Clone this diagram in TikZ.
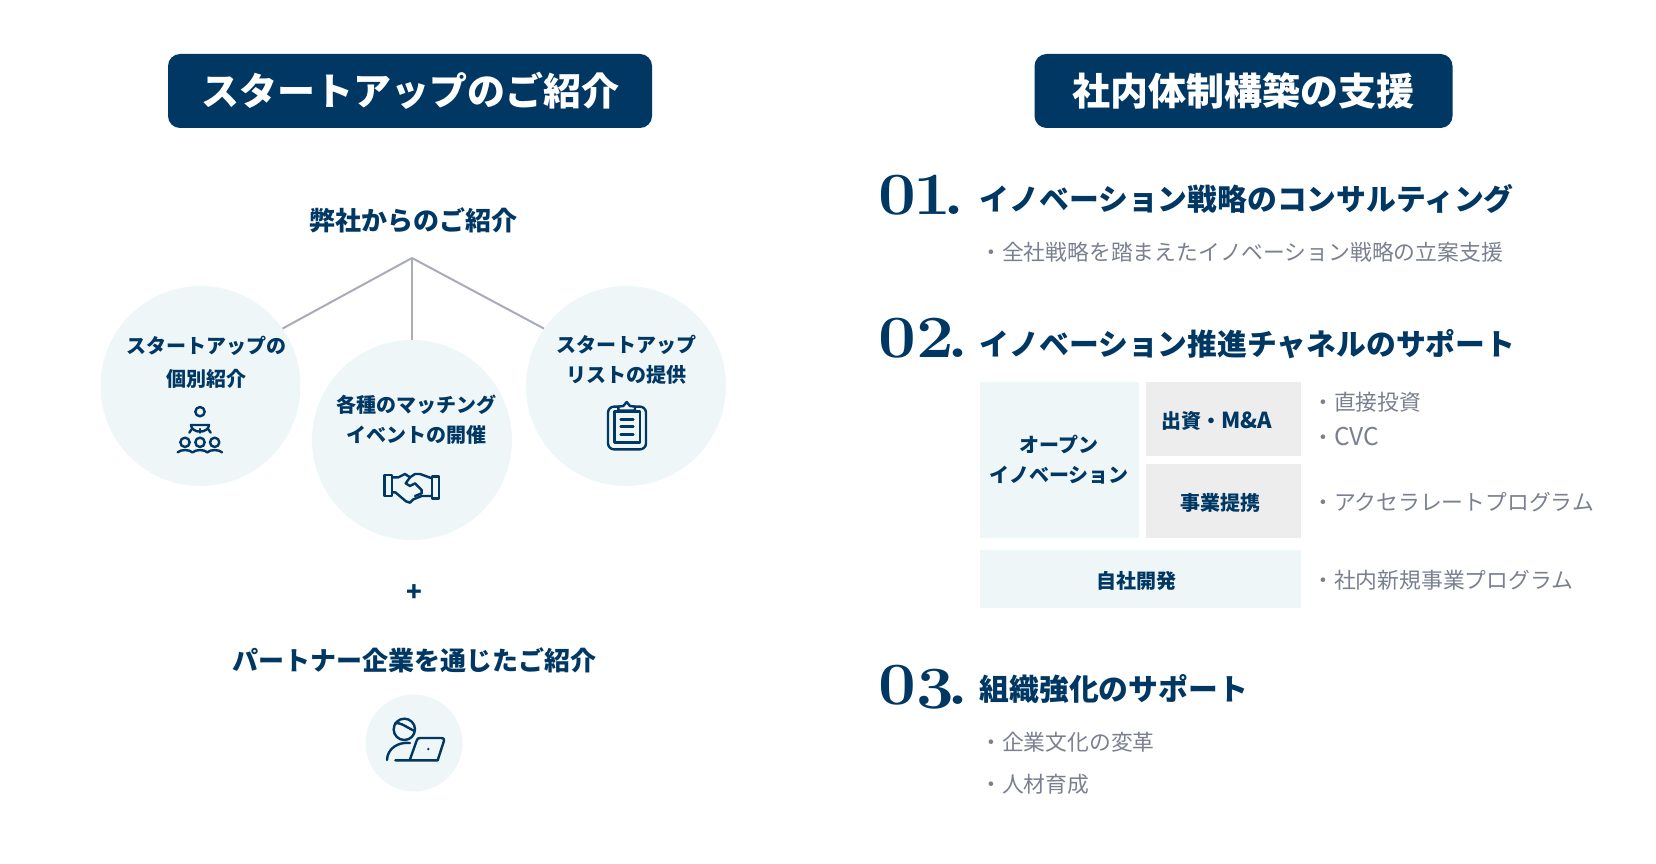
\documentclass[tikz,border=0pt]{standalone}
\usepackage{fontspec}
\setmainfont{Noto Sans CJK JP}
\newfontfamily\numfont[FakeStretch=1.12]{Latin Modern Roman}
\usetikzlibrary{positioning}

\definecolor{navy}{HTML}{003763}
\definecolor{paleblue}{HTML}{EEF6F8}
\definecolor{palegray}{HTML}{EDEDED}
\definecolor{linegray}{HTML}{A9ABB8}
\definecolor{textgray}{HTML}{7A8090}

\newcommand{\fs}[1]{\fontsize{#1}{#1}\selectfont}

\tikzset{
    headbox/.style={fill=navy, text=white, rounded corners=12, inner sep=0, font=\fs{38}\bfseries},
    circbg/.style={circle, fill=paleblue, inner sep=0, minimum size=#1},
    lead/.style={text=navy, inner sep=0, font=\fs{26}\bfseries},
    intext/.style={text=navy, inner sep=0, align=center, font=\fontsize{20}{#1}\selectfont\bfseries},
    numlabel/.style={text=navy, inner sep=0, anchor=base west, font=\fs{60}\numfont\bfseries},
    headline/.style={text=navy, inner sep=0, anchor=west, font=\fs{29.8}\bfseries},
    item/.style={text=textgray, inner sep=0, anchor=west, font=\fs{21.8}},
    blockA/.style={fill=paleblue, inner sep=0, anchor=north west},
    blockB/.style={fill=palegray, inner sep=0, anchor=north west},
    icon/.style={draw=navy, line width=2.4pt, line cap=round, line join=round},
    treeline/.style={linegray, line width=2pt},
}

\begin{document}
\begin{tikzpicture}[x=1pt, y=-1pt]

    \useasboundingbox (0,0) rectangle (1656,864);

    % left column
    \node[headbox, minimum width=484, minimum height=74] (headL) at (410,91) {\raisebox{1pt}{スタートアップのご紹介}};
    \node[lead] (leadA) at (413.5,220) {弊社からのご紹介};

    \node[circbg=200] (circA) at (200.5,386) {};
    \node[circbg=200] (circB) at (412,440) {};
    \node[circbg=200] (circC) at (626,386) {};

    \coordinate (apex) at (412,258);
    \draw[treeline] (apex) -- (circA.35);
    \draw[treeline] (apex) -- (circB.north);
    \draw[treeline] (apex) -- (circC.145);

    \node[intext=33] (txtA) at (206,362) {スタートアップの\\個別紹介};
    \node[intext=30] (txtB) at (416,420) {各種のマッチング\\イベントの開催};
    \node[intext=30] (txtC) at (626.5,360) {スタートアップ\\リストの提供};

    % people icon
    \begin{scope}[shift={(160,390)}, scale=1/3]
        \draw[icon] (120,65) circle (14);
        \draw[icon] (93,105) arc (180:0:27 and 20) -- cycle;
        \draw[icon] (94,119) -- (88,128);
        \draw[icon] (120,117) -- (120,128);
        \draw[icon] (146,119) -- (152,128);
        \foreach \cx in {75,120,164} {
            \draw[icon] (\cx,157) circle (14);
            \draw[icon] (\cx-22,187) .. controls (\cx-14,178) and (\cx+14,178) .. (\cx+22,187);
        }
    \end{scope}

    % handshake icon
    \begin{scope}[shift={(370,460)}, scale=1/3]
        \draw[icon] (44,45) rectangle (66,108);
        \draw[icon] (186,50) rectangle (207,115);
        \draw[icon] (66,52) -- (85,52) -- (105,42) -- (120,52) -- (135,42) -- (150,42) -- (186,55);
        \draw[icon] (66,97) -- (76,97) -- (108,124) -- (120,128) -- (130,118) -- (155,108) -- (186,108);
        \draw[icon] (120,52) -- (107,70) -- (120,78) -- (135,70) -- (155,90) -- (155,100) -- (135,108);
    \end{scope}

    % clipboard icon
    \begin{scope}[shift={(590,390)}, scale=1/3]
        \draw[icon, rounded corners=6] (54,50) rectangle (168,178);
        \draw[icon] (73,65) rectangle (150,158);
        \draw[icon, fill=paleblue] (85,62) -- (85,50) -- (100,48) -- (110,36) -- (120,48) -- (135,50) -- (135,62) -- cycle;
        \foreach \ly in {88,110,133} \draw[icon] (92,\ly) -- (130,\ly);
    \end{scope}

    \node[lead] (plus) at (414.5,593) {+};
    \node[lead] (leadB) at (414.5,660.5) {パートナー企業を通じたご紹介};
    \node[circbg=97] (circD) at (414,743) {};

    % laptop icon
    \begin{scope}[shift={(340,680)}, scale=1/3]
        \draw[icon] (193,148) circle (32);
        \draw[icon] (165,130) .. controls (180,125) and (205,145) .. (222,152);
        \draw[icon] (141,240) .. controls (142,205) and (175,185) .. (210,189);
        \draw[icon] (166,241) -- (293,241) -- (312,182) .. controls (313,176) and (310,174) .. (304,174) -- (240,174) .. controls (234,174) and (232,176) .. (230,182) -- (209,241);
        \fill[navy] (265,207) circle (4);
    \end{scope}

    % right column
    \node[headbox, minimum width=418, minimum height=74] (headR) at (1243.5,91) {\raisebox{1pt}{社内体制構築の支援}};

    \node[numlabel] (numA) at (878,214) {0\kern-3pt1\kern-7pt.};
    \node[headline] (headA) at (979.5,199) {イノベーション戦略のコンサルティング};
    \node[item] (itemA) at (980,252) {・全社戦略を踏まえたイノベーション戦略の立案支援};

    \node[numlabel] (numB) at (878,357.5) {02\kern-6pt.};
    \node[headline] (headB) at (979.5,344) {イノベーション推進チャネルのサポート};

    \node[blockA, minimum width=158.5, minimum height=156] (open) at (980,382) {};
    \node[blockB, minimum width=154.5, minimum height=74] (invest) at (1146,382) {};
    \node[blockB, minimum width=154.5, minimum height=74] (allia) at (1146,464) {};
    \node[blockA, minimum width=320.5, minimum height=58] (inhouse) at (980,550) {};

    \node[intext=30] (txtOpen) at (1059,460) {オープン\\イノベーション};
    \node[intext=30] (txtInv) at (1217,421) {出資・{\fontsize{22}{22}\selectfont M\&A}};
    \node[intext=30] (txtAll) at (1220.5,503) {事業提携};
    \node[intext=30] (txtOwn) at (1136,581) {自社開発};

    \node[item] (itemB) at (1312,402) {・直接投資};
    \node[item] (itemC) at (1312,437) {・{\fontsize{24.5}{24.5}\selectfont CVC}};
    \node[item] (itemD) at (1312,502) {・アクセラレートプログラム};
    \node[item] (itemE) at (1312,580) {・社内新規事業プログラム};

    \node[numlabel] (numC) at (878,704) {0\raisebox{-4pt}{3}\kern-6pt.};
    \node[headline] (headC) at (979.5,689) {組織強化のサポート};
    \node[item] (itemF) at (980,742) {・企業文化の変革};
    \node[item] (itemG) at (980,784) {・人材育成};

\end{tikzpicture}
\end{document}
